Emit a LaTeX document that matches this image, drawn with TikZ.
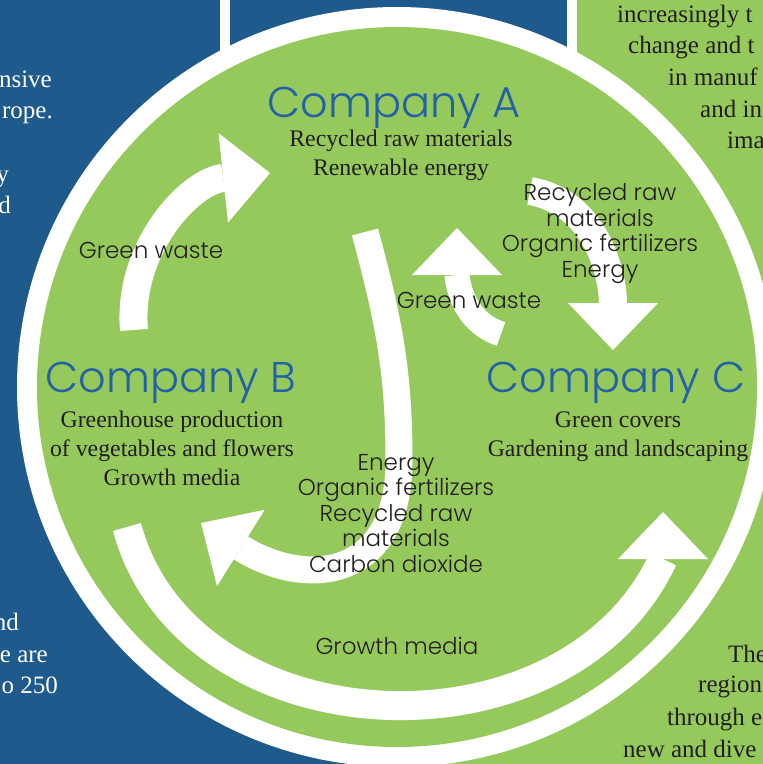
\documentclass[tikz,border=0pt]{standalone}
\usepackage{fontspec}
\setmainfont{Liberation Serif}
\IfFontExistsTF{Poppins Light}{\newfontfamily\geofont{Poppins Light}}{\newfontfamily\geofont{Poppins}}
\usetikzlibrary{arrows.meta}
\definecolor{pageblue}{RGB}{31,90,140}
\definecolor{leafgreen}{RGB}{150,201,92}
\definecolor{titleblue}{RGB}{35,96,166}
\definecolor{inkgray}{RGB}{35,31,32}
\tikzset{
    flow/.style={white,line width=#1,-{Triangle[width=90pt,length=47pt,line width=0pt]}},
    company/.style={titleblue,anchor=base,inner sep=0pt,font=\geofont\fontsize{43}{50}\selectfont},
    products/.style={inkgray,anchor=base,inner sep=0pt,align=center,font=\fontsize{23.8}{28.6}\selectfont},
    goods/.style={inkgray,anchor=base,inner sep=0pt,align=center,font=\geofont\fontsize{23}{25.5}\selectfont},
    pagetext/.style={inner sep=0pt,font=\fontsize{25}{31}\selectfont}
}

\begin{document}
\begin{tikzpicture}[x=1pt,y=1pt]
\useasboundingbox (0,0) rectangle (763,-764);
% page behind the wheel
\fill[pageblue] (0,0) rectangle (763,-764);
\fill[leafgreen] (577,0) -- (763,0) -- (763,-764) -- (430,-764) -- (430,-690) -- (577,-690) -- cycle;
\fill[white] (220,0) rectangle (230,-120); \fill[white] (567,0) rectangle (577,-120);
\node[pagetext,white,anchor=base east] (l1) at (52,-87) {nsive};
\node[pagetext,white,anchor=base east] (l2) at (53,-118) {rope.};
\node[pagetext,white,anchor=base east] (l3) at (9,-182) {y};
\node[pagetext,white,anchor=base east] (l4) at (11,-213) {d};
\node[pagetext,white,anchor=base east] (l5) at (19,-630) {nd};
\node[pagetext,white,anchor=base east] (l6) at (48,-662) {e are};
\node[pagetext,white,anchor=base east] (l7) at (58,-693) {o 250};
\node[pagetext,inkgray,anchor=base west] (r1) at (617,-22) {increasingly t};
\node[pagetext,inkgray,anchor=base west] (r2) at (628,-53) {change and t};
\node[pagetext,inkgray,anchor=base west] (r3) at (668,-85) {in manuf};
\node[pagetext,inkgray,anchor=base west] (r4) at (700,-117) {and in};
\node[pagetext,inkgray,anchor=base west] (r5) at (727,-148) {ima};
\node[pagetext,inkgray,anchor=base west] (r6) at (728,-662) {The};
\node[pagetext,inkgray,anchor=base west] (r7) at (698,-692) {region};
\node[pagetext,inkgray,anchor=base west] (r8) at (667,-725) {through e};
\node[pagetext,inkgray,anchor=base west] (r9) at (623,-757) {new and dive};
% the wheel
\coordinate (hub) at (397,-387);
\fill[white] (hub) circle (380);
\fill[leafgreen] (hub) circle (360);
% flows between the companies
\coordinate (bOut) at (134,-330); \coordinate (aIn) at (270,-173);
\coordinate (aOut) at (530,-191); \coordinate (cIn) at (613,-350);
\coordinate (cOut) at (501,-334); \coordinate (aBack) at (457,-228);
\coordinate (aDown) at (365,-232); \coordinate (bend) at (399,-460); \coordinate (bIn) at (201,-523);
\coordinate (bLow) at (127,-527); \coordinate (cFoot) at (663,-559); \coordinate (cUp) at (663,-512);
\draw[flow=28pt] (bOut) to[out=95,in=186] (aIn);
\draw[flow=28pt] (aOut) to[out=-10,in=90] (cIn);
\draw[flow=25pt] (cOut) to[out=162,in=-90] (aBack);
\draw[flow=27pt] (aDown) to[out=-75,in=90] (bend) to[out=-90,in=-32,looseness=1.5] (bIn);
\draw[flow=29pt] (bLow) to[out=-75,in=-115,looseness=1.1] (cFoot) -- (cUp);
% companies
\node[company] (compA) at (394,-117) {Company A};
\node[company] (compB) at (171,-392) {Company B};
\node[company] (compC) at (616,-392) {Company C};
\node[products] (prodA) at (401,-175) {Recycled raw materials\\Renewable energy};
\node[products] (prodB) at (172,-485) {Greenhouse production\\of vegetables and flowers\\Growth media};
\node[products] (prodC) at (618,-456) {Green covers\\Gardening and landscaping};
% what flows
\node[goods] (wasteB) at (151,-258) {Green waste};
\node[goods] (wasteC) at (469,-308) {Green waste};
\node[goods] (toC) at (600,-277) {Recycled raw\\materials\\Organic fertilizers\\Energy};
\node[goods] (toB) at (396,-572) {Energy\\Organic fertilizers\\Recycled raw\\materials\\Carbon dioxide};
\node[goods] (media) at (397,-654) {Growth media};
\end{tikzpicture}
\end{document}
